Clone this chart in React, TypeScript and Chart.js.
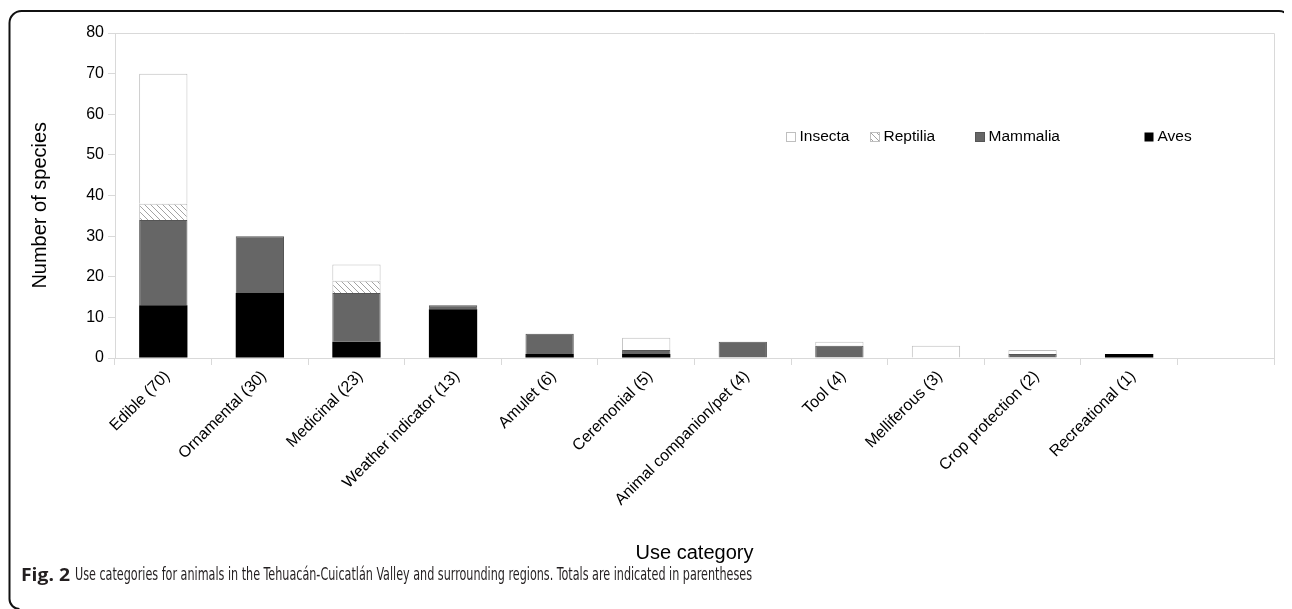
import React, { useEffect, useLayoutEffect, useRef } from "react";
import { Chart, registerables } from "chart.js";

Chart.register(...registerables);

const categories = [
  "Edible (70)",
  "Ornamental (30)",
  "Medicinal (23)",
  "Weather indicator (13)",
  "Amulet (6)",
  "Ceremonial (5)",
  "Animal companion/pet (4)",
  "Tool (4)",
  "Melliferous (3)",
  "Crop protection (2)",
  "Recreational (1)",
  "",
];
const aves = [13, 16, 4, 12, 1, 1, null, null, null, null, 1, null];
const mammalia = [21, 14, 12, 1, 5, 1, 4, 3, null, 1, null, null];
const reptilia = [4, null, 3, null, null, null, null, null, null, null, null, null];
const insecta = [32, null, 4, null, null, 3, null, 1, 3, 1, null, null];
const yMax = 80;
const yStep = 10;

const legendOrder = ["Insecta", "Reptilia", "Mammalia", "Aves"];
const legendFractions = [0.579, 0.651, 0.742, 0.888];
const yTitle = "Number of species";
const captionBold = "Fig. 2";
const captionText =
  "Use categories for animals in the Tehuacán-Cuicatlán Valley and surrounding regions. Totals are indicated in parentheses";

const FONT = "'Liberation Sans', Arial, sans-serif";

function makeHatch(): CanvasPattern | string {
  const c = document.createElement("canvas");
  c.width = 6;
  c.height = 6;
  const ctx = c.getContext("2d");
  if (!ctx) return "#eee";
  ctx.fillStyle = "#ffffff";
  ctx.fillRect(0, 0, 6, 6);
  ctx.strokeStyle = "#8c8c8c";
  ctx.lineWidth = 0.8;
  ctx.beginPath();
  ctx.moveTo(-1, -1);
  ctx.lineTo(7, 7);
  ctx.moveTo(-4, 2);
  ctx.lineTo(4, 10);
  ctx.moveTo(2, -4);
  ctx.lineTo(10, 4);
  ctx.stroke();
  const p = ctx.createPattern(c, "repeat");
  return p || "#eee";
}

export default function App() {
  const canvasRef = useRef<HTMLCanvasElement | null>(null);
  const capRef = useRef<HTMLSpanElement | null>(null);
  const boldRef = useRef<HTMLSpanElement | null>(null);

  useLayoutEffect(() => {
    document.body.style.overflow = "hidden";
    const el = capRef.current;
    if (el) {
      el.style.transform = "none";
      const w = el.getBoundingClientRect().width;
      if (w > 0) el.style.transform = `scaleX(${677 / w})`;
    }
    const b = boldRef.current;
    if (b) {
      b.style.transform = "none";
      const w = b.getBoundingClientRect().width;
      if (w > 0) b.style.transform = `scaleX(${49 / w})`;
    }
  }, []);

  useEffect(() => {
    const canvas = canvasRef.current;
    if (!canvas) return;
    const hatch = makeHatch();

    const styles: Record<string, { bg: any; border: string; bw: number }> = {
      Insecta: { bg: "#ffffff", border: "#bfbfbf", bw: 1 },
      Reptilia: { bg: hatch, border: "#bfbfbf", bw: 1 },
      Mammalia: { bg: "#666666", border: "#555555", bw: 1 },
      Aves: { bg: "#000000", border: "#000000", bw: 0 },
    };

    const frameAndLegend = {
      id: "frameAndLegend",
      afterDraw(chart: any) {
        const { ctx, chartArea } = chart;
        ctx.save();
        ctx.strokeStyle = "#d9d9d9";
        ctx.lineWidth = 1;
        ctx.beginPath();
        ctx.moveTo(chartArea.left, chartArea.top + 0.5);
        ctx.lineTo(chartArea.right + 0.5, chartArea.top + 0.5);
        ctx.lineTo(chartArea.right + 0.5, chartArea.bottom);
        ctx.stroke();

        const w = chartArea.right - chartArea.left;
        const h = chartArea.bottom - chartArea.top;
        const y = chartArea.top + h * 0.317;
        ctx.font = `15.5px ${FONT}`;
        ctx.textBaseline = "middle";
        ctx.textAlign = "left";
        legendOrder.forEach((name, i) => {
          const x = Math.round(chartArea.left + w * legendFractions[i]) + 0.5;
          const s = styles[name];
          ctx.fillStyle = s.bg;
          ctx.fillRect(x, Math.round(y - 4.5) + 0.5, 9, 9);
          if (s.bw > 0) {
            ctx.strokeStyle = s.border;
            ctx.lineWidth = 1;
            ctx.strokeRect(x, Math.round(y - 4.5) + 0.5, 9, 9);
          }
          ctx.fillStyle = "#000";
          ctx.fillText(name, x + 13, y + 1);
        });

        ctx.translate(32, chartArea.top + h * 0.53);
        ctx.rotate(-Math.PI / 2);
        ctx.font = `20px ${FONT}`;
        ctx.textAlign = "center";
        ctx.textBaseline = "middle";
        ctx.fillStyle = "#000";
        ctx.fillText(yTitle, 0, 0);
        ctx.restore();
      },
    };

    const mk = (label: string, data: (number | null)[]) => ({
      label,
      data,
      backgroundColor: styles[label].bg,
      borderColor: styles[label].border,
      borderWidth: styles[label].bw,
      barPercentage: 0.5,
      categoryPercentage: 1.0,
    });

    const chart = new Chart(canvas, {
      type: "bar",
      data: {
        labels: categories,
        datasets: [
          mk("Aves", aves),
          mk("Mammalia", mammalia),
          mk("Reptilia", reptilia),
          mk("Insecta", insecta),
        ] as any,
      },
      options: {
        responsive: false,
        animation: false,
        devicePixelRatio: 1,
        layout: { padding: { top: 25, right: 18, left: 0, bottom: 0 } },
        plugins: {
          legend: { display: false },
          tooltip: { enabled: false },
        },
        scales: {
          x: {
            stacked: true,
            offset: true,
            grid: {
              display: true,
              offset: true,
              drawOnChartArea: false,
              drawTicks: true,
              tickLength: 7,
              color: "#d9d9d9",
            },
            border: { display: true, color: "#d9d9d9" },
            ticks: {
              autoSkip: false,
              maxRotation: 45,
              minRotation: 45,
              color: "#000",
              padding: 2,
              labelOffset: 4,
              font: { family: FONT, size: 16 },
            },
            title: {
              display: true,
              text: "Use category",
              color: "#000",
              font: { family: FONT, size: 20 },
              padding: { top: 0, bottom: 4 },
            },
            afterFit(scale: any) {
              scale.height = 211;
            },
          },
          y: {
            stacked: true,
            min: 0,
            max: yMax,
            grid: {
              display: true,
              drawOnChartArea: false,
              drawTicks: true,
              tickLength: 7,
              color: "#d9d9d9",
            },
            border: { display: true, color: "#d9d9d9" },
            ticks: {
              stepSize: yStep,
              color: "#000",
              padding: 4,
              font: { family: FONT, size: 16 },
            },
            title: { display: false },
            afterFit(scale: any) {
              scale.width = 107;
            },
          },
        },
      },
      plugins: [frameAndLegend],
    });
    return () => chart.destroy();
  }, []);

  return (
    <div
      style={{
        position: "relative",
        width: 1284,
        height: 601,
        overflow: "hidden",
        background: "#fff",
      }}
    >
      <svg
        width={1284}
        height={601}
        style={{ position: "absolute", left: 0, top: 0 }}
      >
        <path
          d="M 11.5 601 A 10 10 0 0 1 1.5 591 L 1.5 15 A 12 12 0 0 1 13.5 3 L 1271 3 A 12 12 0 0 1 1283 15 L 1283 18"
          fill="none"
          stroke="#111"
          strokeWidth={2}
        />
      </svg>
      <canvas
        ref={canvasRef}
        width={1284}
        height={561}
        style={{ position: "absolute", left: 0, top: 0, width: 1284, height: 561 }}
      />
      <div
        style={{
          position: "absolute",
          left: 13,
          top: 555,
          whiteSpace: "nowrap",
          color: "#231f20",
          lineHeight: "22px",
        }}
      >
        <span
          ref={boldRef}
          style={{
            position: "absolute",
            left: 0,
            top: 0,
            display: "inline-block",
            fontFamily: "'Open Sans', 'Noto Sans', sans-serif",
            fontWeight: 700,
            fontSize: 18,
            transformOrigin: "left center",
          }}
        >
          {captionBold}
        </span>
        <span
          ref={capRef}
          style={{
            position: "absolute",
            left: 54,
            top: 0,
            display: "inline-block",
            fontFamily: "'Liberation Sans Narrow', 'DejaVu Sans Condensed', 'Open Sans', sans-serif",
            fontSize: 17.5,
            transformOrigin: "left center",
          }}
        >
          {captionText}
        </span>
      </div>
    </div>
  );
}
